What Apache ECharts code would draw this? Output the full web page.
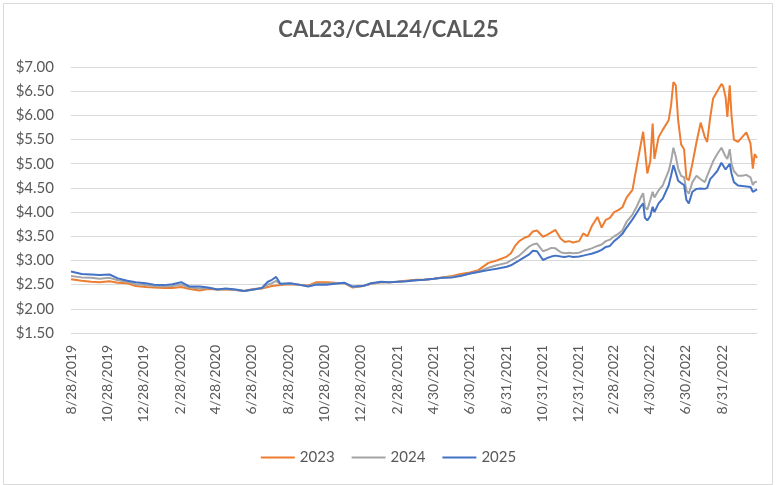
<!DOCTYPE html>
<html>
<head>
<meta charset="utf-8">
<script src="https://cdn.jsdelivr.net/npm/echarts@6/dist/echarts.min.js"></script>
<style>
html,body{margin:0;padding:0;background:#fff;}
#chart{width:777px;height:485px;}
</style>
</head>
<body>
<div id="chart"></div>
<script>
var dates = [
'2019-08-28','2019-09-15','2019-10-01','2019-10-15','2019-11-01','2019-11-15','2019-12-01','2019-12-15',
'2020-01-01','2020-01-15','2020-02-01','2020-02-15','2020-03-01','2020-03-15','2020-04-01','2020-04-15',
'2020-05-01','2020-05-15','2020-06-01','2020-06-15','2020-07-01','2020-07-15','2020-07-25','2020-08-01',
'2020-08-08','2020-08-15','2020-09-01','2020-09-15','2020-10-01','2020-10-15','2020-11-01','2020-11-15',
'2020-12-01','2020-12-15','2021-01-01','2021-01-15','2021-02-01','2021-02-15','2021-03-01','2021-03-15',
'2021-04-01','2021-04-15','2021-05-01','2021-05-15','2021-06-01','2021-06-15','2021-07-01','2021-07-15',
'2021-08-01','2021-08-15',
'2021-09-01','2021-09-08','2021-09-15','2021-09-22','2021-10-01','2021-10-08','2021-10-15','2021-10-22',
'2021-11-01','2021-11-08','2021-11-15','2021-11-22','2021-12-01','2021-12-08','2021-12-15','2021-12-22',
'2022-01-01','2022-01-08','2022-01-15','2022-01-22','2022-02-01','2022-02-08','2022-02-15','2022-02-22',
'2022-03-01','2022-03-08','2022-03-15','2022-03-22','2022-04-01','2022-04-08','2022-04-15','2022-04-19',
'2022-04-22','2022-04-26','2022-05-01','2022-05-05','2022-05-08','2022-05-15','2022-05-22','2022-06-01',
'2022-06-05','2022-06-09','2022-06-13','2022-06-17','2022-06-22','2022-06-27','2022-07-01','2022-07-05',
'2022-07-11','2022-07-18','2022-07-25','2022-08-01','2022-08-05','2022-08-10','2022-08-15','2022-08-22',
'2022-08-29','2022-09-01','2022-09-05','2022-09-08','2022-09-12','2022-09-15','2022-09-19','2022-09-26',
'2022-10-03','2022-10-10','2022-10-17','2022-10-21','2022-10-24','2022-10-28'
];

var cal23 = [
2.61,2.58,2.56,2.55,2.57,2.54,2.53,2.47,
2.45,2.44,2.43,2.43,2.45,2.41,2.38,2.41,
2.40,2.40,2.39,2.37,2.41,2.42,2.45,2.47,
2.48,2.49,2.51,2.50,2.48,2.55,2.55,2.54,
2.53,2.44,2.47,2.52,2.55,2.55,2.56,2.58,
2.60,2.60,2.62,2.65,2.68,2.72,2.75,2.80,
2.95,3.00,
3.08,3.15,3.30,3.40,3.47,3.50,3.60,3.62,
3.49,3.53,3.58,3.63,3.45,3.38,3.40,3.37,
3.40,3.56,3.50,3.70,3.90,3.68,3.84,3.88,
4.00,4.04,4.10,4.30,4.46,4.94,5.40,5.66,
5.30,4.80,5.05,5.83,5.10,5.55,5.70,5.90,
6.20,6.69,6.62,5.90,5.40,5.30,4.70,4.66,
5.00,5.45,5.85,5.55,5.45,5.95,6.35,6.50,
6.65,6.60,6.38,5.97,6.62,6.00,5.50,5.45,
5.55,5.65,5.42,4.90,5.20,5.12
];

var cal24 = [
2.68,2.65,2.64,2.62,2.64,2.59,2.56,2.51,
2.49,2.47,2.46,2.47,2.50,2.44,2.42,2.43,
2.40,2.41,2.39,2.37,2.40,2.43,2.50,2.53,
2.58,2.51,2.52,2.50,2.47,2.52,2.52,2.53,
2.53,2.45,2.47,2.52,2.55,2.55,2.56,2.57,
2.59,2.60,2.62,2.64,2.66,2.69,2.73,2.77,
2.85,2.90,
2.95,3.00,3.05,3.10,3.20,3.28,3.33,3.35,
3.19,3.22,3.26,3.25,3.17,3.15,3.16,3.15,
3.16,3.20,3.22,3.25,3.30,3.33,3.40,3.43,
3.50,3.55,3.62,3.80,3.95,4.11,4.30,4.39,
4.10,4.05,4.25,4.42,4.30,4.45,4.55,4.85,
5.05,5.33,5.15,4.90,4.75,4.72,4.45,4.38,
4.62,4.75,4.68,4.62,4.75,4.90,5.05,5.20,
5.33,5.30,5.15,5.10,5.30,5.00,4.85,4.75,
4.75,4.77,4.72,4.56,4.62,4.63
];

var cal25 = [
2.77,2.72,2.71,2.70,2.71,2.63,2.58,2.55,
2.53,2.50,2.49,2.51,2.55,2.46,2.46,2.44,
2.40,2.42,2.40,2.37,2.40,2.43,2.56,2.60,
2.66,2.52,2.53,2.50,2.46,2.50,2.50,2.52,
2.54,2.46,2.47,2.53,2.56,2.55,2.56,2.57,
2.59,2.60,2.62,2.64,2.65,2.68,2.73,2.76,
2.80,2.83,
2.87,2.90,2.95,3.00,3.07,3.12,3.20,3.19,
3.01,3.05,3.08,3.10,3.08,3.07,3.09,3.07,
3.08,3.10,3.12,3.14,3.18,3.22,3.28,3.30,
3.40,3.47,3.55,3.68,3.85,3.98,4.12,4.18,
3.88,3.83,3.92,4.11,4.00,4.18,4.28,4.55,
4.75,4.97,4.82,4.65,4.60,4.56,4.25,4.18,
4.42,4.48,4.49,4.48,4.50,4.68,4.75,4.85,
5.02,4.98,4.88,4.92,5.00,4.80,4.62,4.55,
4.54,4.53,4.52,4.42,4.44,4.47
];

var tickDates = [
'2019-08-28','2019-10-28','2019-12-28','2020-02-28','2020-04-28','2020-06-28','2020-08-28',
'2020-10-28','2020-12-28','2021-02-28','2021-04-30','2021-06-30','2021-08-31','2021-10-31',
'2021-12-31','2022-02-28','2022-04-30','2022-06-30','2022-08-31'
];

var seriesNames = ['2023','2024','2025'];
var colors = ['#ED7D31','#A5A5A5','#4472C4'];

function toTs(s){ var p = s.split('-'); return Date.UTC(+p[0], +p[1]-1, +p[2]); }
function pairs(vals){ return dates.map(function(d,i){ return [toTs(d), vals[i]]; }); }
function fmtDate(v){ var d = new Date(v); return (d.getUTCMonth()+1) + '/' + d.getUTCDate() + '/' + d.getUTCFullYear(); }

var font = 'Lato, "Open Sans", sans-serif';
var chart = echarts.init(document.getElementById('chart'));
chart.setOption({
  animation: false,
  backgroundColor: '#fff',
  title: {
    text: 'CAL23/CAL24/CAL25',
    left: 'center',
    top: 14,
    textStyle: { fontFamily: font, fontSize: 22, fontWeight: 'bold', color: '#595959' }
  },
  graphic: [{
    type: 'rect', left: 1, top: 1,
    shape: { x: 0, y: 0, width: 769, height: 481 },
    style: { fill: 'none', stroke: '#D9D9D9', lineWidth: 1 }
  }],
  legend: {
    data: seriesNames,
    bottom: 15,
    left: 'center',
    icon: 'rect',
    itemWidth: 34,
    itemHeight: 2,
    itemGap: 17,
    textStyle: { fontFamily: font, fontSize: 15, color: '#595959' }
  },
  grid: { left: 71, right: 20, top: 67, bottom: 152, containLabel: false },
  xAxis: {
    type: 'value',
    min: toTs('2019-08-28'),
    max: toTs('2022-10-28'),
    axisLine: { show: false },
    axisTick: { show: false },
    splitLine: { show: false },
    axisLabel: {
      customValues: tickDates.map(toTs),
      rotate: 90,
      margin: 12,
      hideOverlap: false,
      showMinLabel: true,
      fontFamily: font,
      fontSize: 14,
      color: '#595959',
      formatter: fmtDate
    }
  },
  yAxis: {
    type: 'value',
    min: 1.5, max: 7, interval: 0.5,
    axisLine: { show: false },
    axisTick: { show: false },
    splitLine: { lineStyle: { color: '#D9D9D9', width: 1 } },
    axisLabel: {
      margin: 17,
      fontFamily: font, fontSize: 15, color: '#595959',
      formatter: function(v){ return '$' + v.toFixed(2); }
    }
  },
  series: [cal23, cal24, cal25].map(function(vals, i){
    return {
      name: seriesNames[i], type: 'line', data: pairs(vals),
      symbol: 'none', showSymbol: false,
      lineStyle: { color: colors[i], width: 2 },
      itemStyle: { color: colors[i] },
      z: 3 + i
    };
  })
});
</script>
</body>
</html>
